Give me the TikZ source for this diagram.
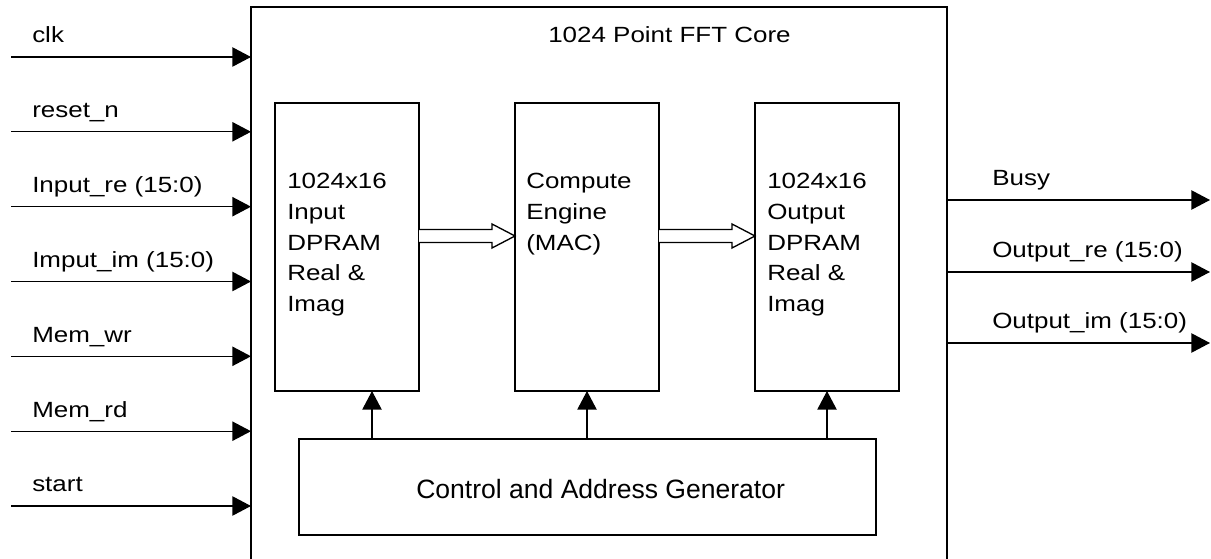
\documentclass[tikz,border=0pt]{standalone}
\usepackage{fontspec}
\setmainfont{Liberation Sans}[FakeStretch=1.18]
\newfontfamily\ctrlfont{Liberation Sans}
\usetikzlibrary{calc}
\usetikzlibrary{arrows.meta}
\tikzset{
  blk/.style={draw, line width=1pt, inner sep=0pt, outer sep=0pt, minimum width=108pt, minimum height=216pt},
  sig/.style={line width=1pt, -{Triangle[length=14pt,width=14.5pt]}},
  lbl/.style={inner sep=0pt, anchor=base west, font=\fontsize{16.5}{22.9}\selectfont, align=left},
  blktxt/.style={lbl, text width=95pt},
}
\newcommand{\inport}[3]{\coordinate (#1) at (11,#2); \node[lbl] (#1l) at (32,#2-14) {#3}; \draw[sig] (#1) -- (#1 -| core.west);}
\newcommand{\outport}[3]{\coordinate (#1) at (1210,#2); \node[lbl] (#1l) at (992,#2-14) {#3}; \draw[sig] (#1 -| core.east) -- (#1);}
\newcommand{\fatarrow}[2]{\draw[line width=1pt, fill=white] ($(#1.east)+(0,-17.5)$) -- ($(#2.west)+(-23,-17.5)$) -- ($(#2.west)+(-23,-23)$) -- ($(#2.west)+(0,-11)$) -- ($(#2.west)+(-23,1)$) -- ($(#2.west)+(-23,-4.5)$) -- ($(#1.east)+(0,-4.5)$);}

\begin{document}
\begin{tikzpicture}[x=0.75pt, y=-0.75pt]
        \useasboundingbox (0,0) rectangle (1211,559);
        \clip (0,0) rectangle (1211,559);

        % core and blocks
        \node[blk, minimum width=522pt, minimum height=429.75pt] (core) at (599,293.5) {};
        \node[blk] (inA) at (347,247) {};
        \node[blk] (mac) at (587,247) {};
        \node[blk] (outB) at (827,247) {};
        \node[blk, minimum width=432.75pt, minimum height=72pt] (ctrl) at (587.5,487) {};

        % texts
        \node[lbl] (title) at (548,43) {1024 Point FFT Core};
        \node[blktxt] (inAt) at ($(inA.north west)+(12,86)$) {1024x16\\Input\\DPRAM\\Real \&\\Imag};
        \node[blktxt] (mact) at ($(mac.north west)+(11,86)$) {Compute\\Engine\\(MAC)};
        \node[blktxt] (outBt) at ($(outB.north west)+(12,86)$) {1024x16\\Output\\DPRAM\\Real \&\\Imag};
        \node[lbl, font=\ctrlfont\fontsize{19.9}{24}\selectfont] (ctrlt) at (416,499) {Control and Address Generator};

        % inputs
        \inport{clk}{57}{clk}
        \inport{rst}{131.8}{reset\_n}
        \inport{ire}{206.7}{Input\_re (15:0)}
        \inport{iim}{281.5}{Imput\_im (15:0)}
        \inport{mwr}{356.3}{Mem\_wr}
        \inport{mrd}{431.2}{Mem\_rd}
        \inport{strt}{506}{start}

        % outputs
        \outport{busy}{200}{Busy}
        \outport{ore}{272}{Output\_re (15:0)}
        \outport{oim}{343}{Output\_im (15:0)}

        % data path
        \fatarrow{inA}{mac}
        \fatarrow{mac}{outB}

        % control
        \coordinate (ctlA) at ($(inA.south)+(25,0)$);
        \draw[sig] (ctlA |- ctrl.north) -- (ctlA);
        \draw[sig] (mac.south |- ctrl.north) -- (mac.south);
        \draw[sig] (outB.south |- ctrl.north) -- (outB.south);
\end{tikzpicture}
\end{document}
